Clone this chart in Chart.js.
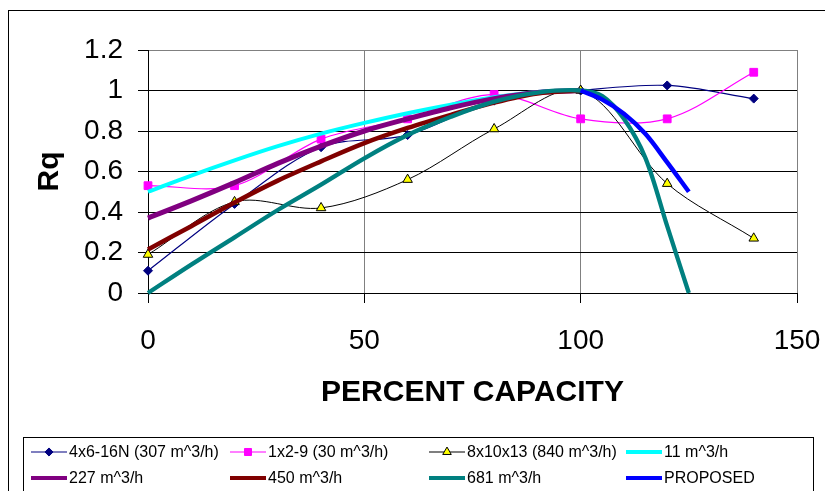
<!DOCTYPE html>
<html>
<head>
<meta charset="utf-8">
<script src="https://cdn.jsdelivr.net/npm/chart.js@4"></script>
<style>
  html, body { margin: 0; padding: 0; background: #fff; }
  canvas { display: block; }
</style>
</head>
<body>
<canvas id="chart" width="825" height="491"></canvas>
<script>
// Test points (percent of best-efficiency capacity)
const pctTest = [0, 20, 40, 60, 80, 100, 120, 140];
const rq4x6 = [0.11, 0.44, 0.72, 0.78, 0.95, 1.00, 1.025, 0.96];
const rq1x2 = [0.53, 0.53, 0.76, 0.86, 0.98, 0.86, 0.86, 1.09];
const rq8x10 = [0.19, 0.45, 0.42, 0.56, 0.81, 1.00, 0.54, 0.27];

// Fitted curves
const pctFit = [0, 10, 20, 30, 40, 50, 60, 70, 80, 90, 100];
const rq11 = [0.50, 0.58, 0.655, 0.725, 0.787, 0.84, 0.888, 0.93, 0.967, 0.993, 1.0];
const rq227 = [0.37, 0.455, 0.545, 0.64, 0.725, 0.80, 0.86, 0.915, 0.96, 0.99, 1.0];
const rq450 = [0.215, 0.33, 0.447, 0.555, 0.65, 0.74, 0.815, 0.88, 0.94, 0.985, 1.0];
const pctFit681 = [0, 10, 20, 30, 40, 50, 60, 70, 80, 90, 100, 105, 110, 115, 120, 125];
const rq681 = [0, 0.14, 0.275, 0.41, 0.535, 0.665, 0.78, 0.87, 0.945, 0.99, 1.0, 0.972, 0.86, 0.665, 0.33, 0];
const pctProposed = [100, 105, 110, 115, 120, 125];
const rqProposed = [1.0, 0.955, 0.885, 0.785, 0.645, 0.5];

// Series labels and axis ticks
const seriesLabels = [
  '4x6-16N (307 m^3/h)', '1x2-9 (30 m^3/h)', '8x10x13 (840 m^3/h)', '11 m^3/h',
  '227 m^3/h', '450 m^3/h', '681 m^3/h', 'PROPOSED'
];
const xTicks = [0, 50, 100, 150];
const yTicks = [0, 0.2, 0.4, 0.6, 0.8, 1, 1.2];
const xTitle = 'PERCENT CAPACITY';
const yTitle = 'Rq';

const FONT = "'Liberation Sans', Arial, sans-serif";

function pts(xs, ys) {
  return xs.map((x, i) => ({ x: x, y: ys[i] }));
}

const styles = [
  { color: '#000080', width: 1.2, point: 'rectRot', radius: 4.5, fill: '#000080', pborder: '#000080' },
  { color: '#FF00FF', width: 1.2, point: 'rect', radius: 5.5, fill: '#FF00FF', pborder: '#FF00FF' },
  { color: '#000000', width: 1, point: 'triangle', radius: 5.5, fill: '#FFFF00', pborder: '#000000' },
  { color: '#00FFFF', width: 4, point: false },
  { color: '#800080', width: 5, point: false },
  { color: '#800000', width: 4.5, point: false },
  { color: '#008080', width: 4.3, point: false },
  { color: '#0000FF', width: 4.5, point: false }
];

const seriesData = [
  pts(pctTest, rq4x6), pts(pctTest, rq1x2), pts(pctTest, rq8x10),
  pts(pctFit, rq11), pts(pctFit, rq227), pts(pctFit, rq450),
  pts(pctFit681, rq681), pts(pctProposed, rqProposed)
];

const datasets = seriesData.map((d, i) => {
  const s = styles[i];
  return {
    label: seriesLabels[i],
    data: d,
    borderColor: s.color,
    backgroundColor: s.fill || s.color,
    borderWidth: s.width,
    tension: 0.33,
    pointStyle: s.point || 'circle',
    pointRadius: s.point ? s.radius : 0,
    pointBackgroundColor: s.fill || s.color,
    pointBorderColor: s.pborder || s.color,
    pointBorderWidth: 1,
    pointHoverRadius: s.point ? s.radius : 0,
    fill: false,
    clip: false,
    order: seriesLabels.length - i
  };
});

// Frame around the whole chart and the boxed legend underneath
const legendBox = {
  id: 'legendBox',
  afterDraw(chart) {
    const ctx = chart.ctx;
    ctx.save();
    ctx.strokeStyle = '#000';
    ctx.lineWidth = 1;
    ctx.strokeRect(8.5, 10.5, 830, 500);
    ctx.strokeRect(23.5, 437.5, 790, 70);

    const cols = [31, 230, 429, 626];
    const rows = [452, 478];
    ctx.font = '16px ' + FONT;
    ctx.textBaseline = 'middle';
    ctx.textAlign = 'left';
    chart.data.datasets.forEach((ds, i) => {
      const s = styles[i];
      const x0 = cols[i % 4];
      const y = rows[Math.floor(i / 4)];
      const len = 36;
      ctx.beginPath();
      ctx.strokeStyle = s.color;
      ctx.lineWidth = s.point ? 1.2 : 4;
      ctx.moveTo(x0, y);
      ctx.lineTo(x0 + len, y);
      ctx.stroke();
      if (s.point) {
        ctx.fillStyle = s.fill;
        ctx.strokeStyle = s.pborder;
        ctx.lineWidth = 1;
        Chart.helpers.drawPoint(ctx, {
          pointStyle: s.point, rotation: 0, borderWidth: 1, radius: s.radius * 0.9
        }, x0 + len / 2, y);
      }
      ctx.fillStyle = '#000';
      ctx.fillText(ds.label, x0 + len + 2, y + 1);
    });
    ctx.restore();
  }
};

new Chart(document.getElementById('chart'), {
  type: 'line',
  data: { datasets: datasets },
  plugins: [legendBox],
  options: {
    responsive: false,
    animation: false,
    devicePixelRatio: 1,
    events: [],
    layout: { padding: { top: 50, right: 28, bottom: 0, left: 0 } },
    plugins: {
      legend: { display: false },
      tooltip: { enabled: false }
    },
    scales: {
      x: {
        type: 'linear',
        min: 0,
        max: 150,
        afterBuildTicks(scale) { scale.ticks = xTicks.map(v => ({ value: v })); },
        afterFit(scale) {
          scale.height = 198;
          scale.paddingLeft = 0;
          scale.paddingRight = 0;
        },
        ticks: {
          font: { family: FONT, size: 28 },
          color: '#000',
          padding: 21,
          maxRotation: 0
        },
        grid: {
          color: ctx => (ctx.tick && ctx.tick.value === 0) ? '#000' : '#808080',
          tickColor: '#000',
          tickLength: 10,
          lineWidth: 1
        },
        border: { color: '#000', width: 1 },
        title: {
          display: true,
          text: xTitle,
          color: '#000',
          font: { family: FONT, size: 30, weight: 'bold' },
          padding: { top: 0, bottom: 80 }
        }
      },
      y: {
        min: 0,
        max: 1.2,
        afterBuildTicks(scale) { scale.ticks = yTicks.map(v => ({ value: v })); },
        afterFit(scale) {
          scale.width = 148;
          scale.paddingTop = 0;
          scale.paddingBottom = 0;
        },
        ticks: {
          font: { family: FONT, size: 28 },
          color: '#000',
          padding: 15,
          callback: v => String(Math.round(v * 10) / 10)
        },
        grid: {
          color: ctx => (ctx.tick && ctx.tick.value >= 1.2) ? '#808080' : '#000',
          tickColor: '#000',
          tickLength: 10,
          lineWidth: 1
        },
        border: { color: '#000', width: 1 },
        title: {
          display: true,
          text: yTitle,
          color: '#000',
          font: { family: FONT, size: 30, weight: 'bold' },
          padding: { top: 32, bottom: 0 }
        }
      }
    }
  }
});
</script>
</body>
</html>
